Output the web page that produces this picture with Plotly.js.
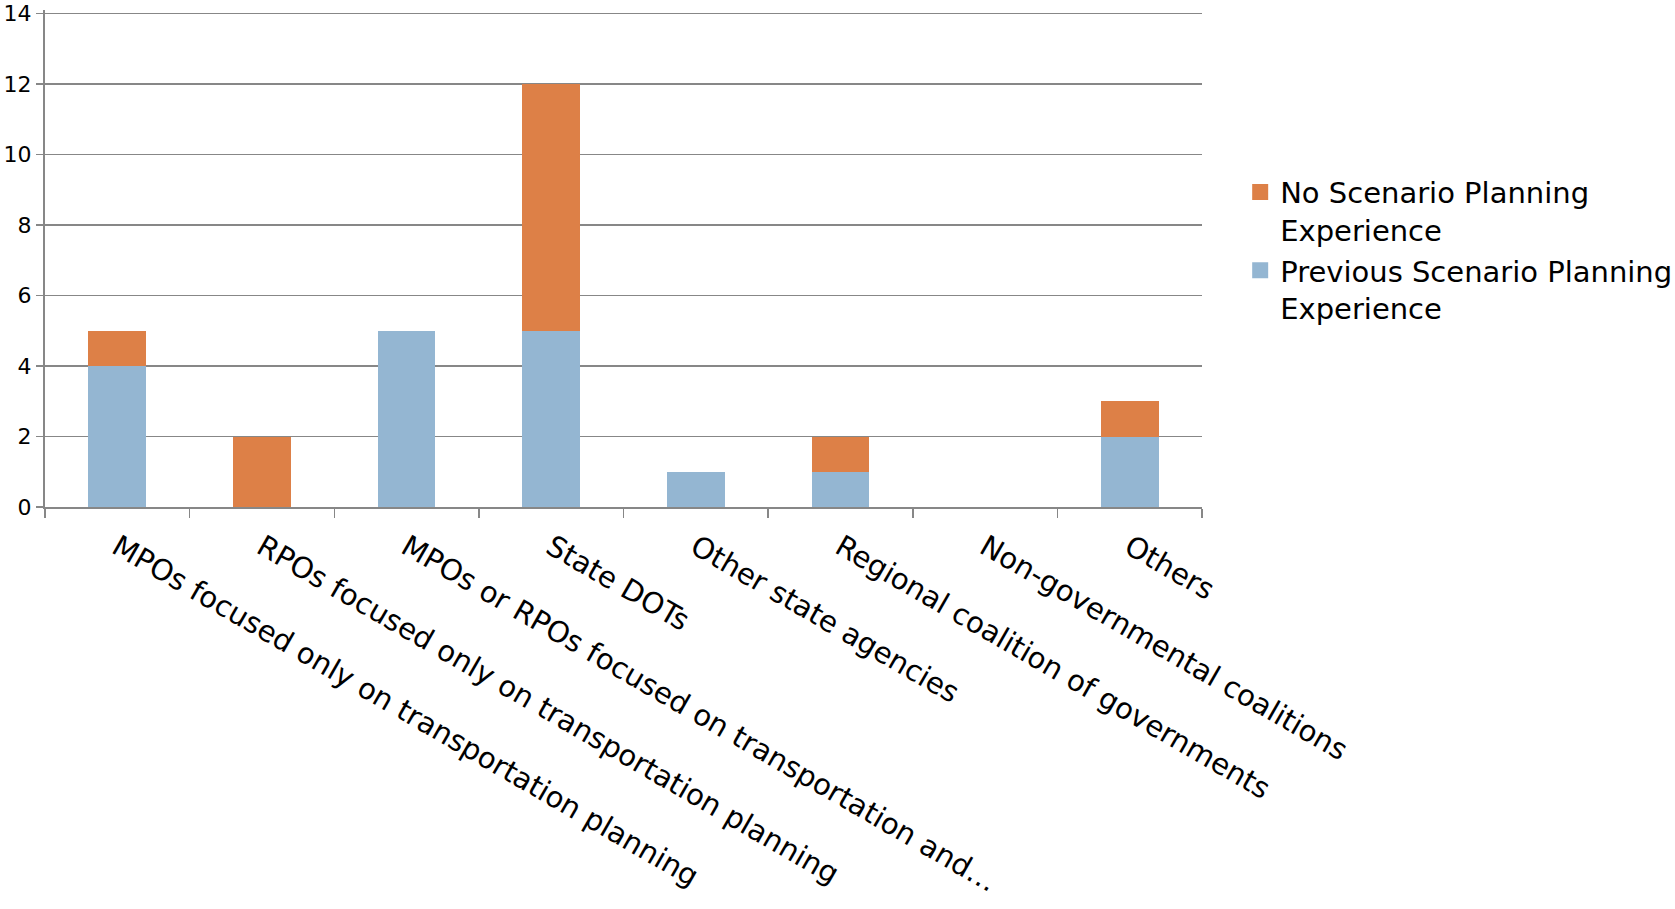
<!DOCTYPE html>
<html>
<head>
<meta charset="utf-8">
<script src="https://cdn.plot.ly/plotly-3.0.1.min.js"></script>
<style>
html,body{margin:0;padding:0;background:#fff;}
#chart{width:1675px;height:909px;}
</style>
</head>
<body>
<div id="chart"></div>
<script>
const categories = [
  "MPOs focused only on transportation planning",
  "RPOs focused only on transportation planning",
  "MPOs or RPOs focused on transportation and…",
  "State DOTs",
  "Other state agencies",
  "Regional coalition of governments",
  "Non-governmental coalitions",
  "Others"
];
const previousExperience = [4, 0, 5, 5, 1, 1, 0, 2];
const noExperience = [1, 2, 0, 7, 0, 1, 0, 1];
const seriesNames = ["Previous Scenario Planning<br>Experience", "No Scenario Planning<br>Experience"];
const seriesColors = ["#94B6D2", "#DD8047"];
const yTicks = [0, 2, 4, 6, 8, 10, 12, 14];

const FONT = "Century Gothic, DejaVu Sans, sans-serif";
const GRID = "#878787";

const data = [
  {type: "bar", name: seriesNames[0], x: categories, y: previousExperience,
   marker: {color: seriesColors[0], line: {width: 0}}, showlegend: false},
  {type: "bar", name: seriesNames[1], x: categories, y: noExperience,
   marker: {color: seriesColors[1], line: {width: 0}}, showlegend: false},
  // legend-only entries with larger square swatches
  {type: "scatter", mode: "markers", name: seriesNames[0], x: [categories[0]], y: [null],
   marker: {symbol: "square", size: 17, color: seriesColors[0], line: {width: 0}}},
  {type: "scatter", mode: "markers", name: seriesNames[1], x: [categories[0]], y: [null],
   marker: {symbol: "square", size: 17, color: seriesColors[1], line: {width: 0}}}
];

const layout = {
  width: 1675, height: 909,
  margin: {l: 45, r: 473, t: 10, b: 402, autoexpand: false},
  paper_bgcolor: "#fff", plot_bgcolor: "#fff",
  barmode: "stack", bargap: 0.6,
  font: {family: FONT, color: "#000", size: 28},
  showlegend: true,
  legend: {x: 1.033, y: 0.685, xanchor: "left", yanchor: "top", traceorder: "reversed",
           valign: "top", font: {family: FONT, size: 29, color: "#000"}, itemsizing: "trace",
           tracegroupgap: 0, bgcolor: "rgba(0,0,0,0)"},
  xaxis: {type: "category", tickangle: 30, tickson: "boundaries", ticks: "outside",
          ticklen: 9, tickwidth: 1.5, tickcolor: GRID, showline: true, linecolor: GRID, linewidth: 2,
          showgrid: false, ticklabelstandoff: 10,
          tickfont: {family: FONT, size: 29, color: "#000"}, automargin: false},
  yaxis: {range: [0, 14.1], tickvals: yTicks, ticks: "outside", ticklen: 7, tickwidth: 1.5,
          tickcolor: GRID, showline: true, linecolor: GRID, linewidth: 2, showgrid: true,
          gridcolor: GRID, gridwidth: 1.5, zeroline: false, ticklabelstandoff: 0,
          tickfont: {family: FONT, size: 22, color: "#000"}, automargin: false}
};

Plotly.newPlot("chart", data, layout, {displayModeBar: false, staticPlot: true});
</script>
</body>
</html>
